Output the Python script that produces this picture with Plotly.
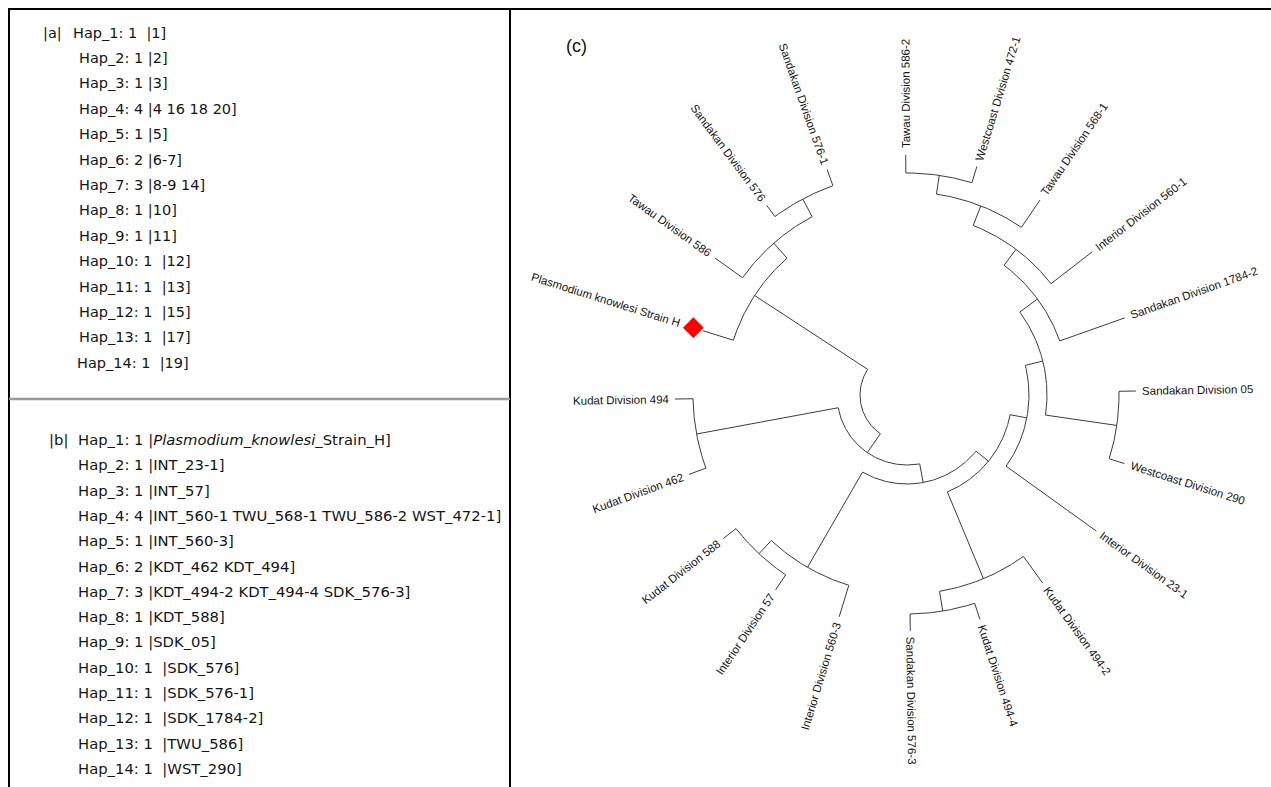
import math
import plotly.graph_objects as go

# ---------------- Panel (a) / (b) data ----------------
hap_ids = ["Hap_1", "Hap_2", "Hap_3", "Hap_4", "Hap_5", "Hap_6", "Hap_7",
           "Hap_8", "Hap_9", "Hap_10", "Hap_11", "Hap_12", "Hap_13", "Hap_14"]
hap_counts = [1, 1, 1, 4, 1, 2, 3, 1, 1, 1, 1, 1, 1, 1]
hap_seq_numbers = ["1", "2", "3", "4 16 18 20", "5", "6-7", "8-9 14", "10", "11",
                   "12", "13", "15", "17", "19"]
hap_seq_names = ["<i>Plasmodium_knowlesi</i>_Strain_H", "INT_23-1", "INT_57",
                 "INT_560-1 TWU_568-1 TWU_586-2 WST_472-1", "INT_560-3",
                 "KDT_462 KDT_494", "KDT_494-2 KDT_494-4 SDK_576-3", "KDT_588",
                 "SDK_05", "SDK_576", "SDK_576-1", "SDK_1784-2", "TWU_586", "WST_290"]

# ---------------- Panel (c) tree data ----------------
leaf_names = ["Sandakan Division 576-1", "Sandakan Division 576", "Tawau Division 586",
              "Plasmodium knowlesi Strain H", "Kudat Division 494", "Kudat Division 462",
              "Kudat Division 588", "Interior Division 57", "Interior Division 560-3",
              "Sandakan Division 576-3", "Kudat Division 494-4", "Kudat Division 494-2",
              "Interior Division 23-1", "Westcoast Division 290", "Sandakan Division 05",
              "Sandakan Division 1784-2", "Interior Division 560-1", "Tawau Division 568-1",
              "Westcoast Division 472-1", "Tawau Division 586-2"]
leaf_angle_deg = [109.5, 126.5, 144.5, 162.5, 181.0, 200.0, 218.0, 236.0, 253.0, 270.8,
                  288.0, 305.8, 324.3, 342.5, 361.0, 379.5, 397.7, 415.7, 433.0, 450.3]
leaf_tip_r = [239, 236, 236, 214, 232, 232, 233, 235, 232, 236,
              236, 232, 233, 228, 229, 231, 234, 236, 239, 240]
marked_leaf = "Plasmodium knowlesi Strain H"

node_names = ["S", "X", "Y", "K", "P", "Q", "M", "L", "SW", "B4", "B3", "B2", "B1",
              "A", "R5", "R4", "R3", "R2", "root"]
node_r = [222, 202, 182, 214, 217, 199, 219, 199, 212, 222, 203, 182, 162,
          140, 122, 105, 89, 70, 47]
node_children = [
    ["Sandakan Division 576-1", "Sandakan Division 576"],
    ["S", "Tawau Division 586"],
    ["X", "Plasmodium knowlesi Strain H"],
    ["Kudat Division 494", "Kudat Division 462"],
    ["Kudat Division 588", "Interior Division 57"],
    ["P", "Interior Division 560-3"],
    ["Sandakan Division 576-3", "Kudat Division 494-4"],
    ["M", "Kudat Division 494-2"],
    ["Westcoast Division 290", "Sandakan Division 05"],
    ["Westcoast Division 472-1", "Tawau Division 586-2"],
    ["Tawau Division 568-1", "B4"],
    ["Interior Division 560-1", "B3"],
    ["Sandakan Division 1784-2", "B2"],
    ["SW", "B1"],
    ["Interior Division 23-1", "A"],
    ["L", "R5"],
    ["Q", "R4"],
    ["K", "R3"],
    ["Y", "R2"],
]

# ---------------- layout constants ----------------
W, H = 1271, 787
CX, CY = 907, 395          # tree centre (pixel coords)
TREE_FS = 11.5
PANEL_A_FS = 14.5
PANEL_B_FS = 14.8
LINE_COL = "#3c3c3c"
TEXT_COL = "#141414"

ARIAL_W = {' ': 278, '-': 333, 'D': 722, 'H': 722, 'I': 278, 'K': 667, 'P': 667,
           'S': 667, 'T': 611, 'W': 944, 'a': 556, 'c': 500, 'd': 556, 'e': 556,
           'i': 222, 'k': 500, 'l': 222, 'm': 833, 'n': 556, 'o': 556, 'r': 333,
           's': 500, 't': 278, 'u': 556, 'v': 500, 'w': 722}


def text_w(s, size):
    return sum(ARIAL_W.get(c, 556) for c in s) * size / 1000.0


def pt(r, ang):
    t = math.radians(ang)
    return CX + r * math.cos(t), CY - r * math.sin(t)


# node geometry
angle = dict(zip(leaf_names, leaf_angle_deg))
radius = dict(zip(leaf_names, leaf_tip_r))
parent_r = {}
arcs = []
for name, r, ch in zip(node_names, node_r, node_children):
    angs = [angle[c] for c in ch]
    angle[name] = (min(angs) + max(angs)) / 2.0
    radius[name] = r
    for c in ch:
        parent_r[c] = r
    arcs.append((r, min(angs), max(angs)))

xs, ys = [], []
# radial branches
for name, pr in parent_r.items():
    x0, y0 = pt(pr, angle[name])
    x1, y1 = pt(radius[name], angle[name])
    xs += [x0, x1, None]
    ys += [y0, y1, None]
# arcs
for r, a0, a1 in arcs:
    n = max(2, int((a1 - a0) / 0.5) + 1)
    for i in range(n):
        a = a0 + (a1 - a0) * i / (n - 1)
        x, y = pt(r, a)
        xs.append(x)
        ys.append(y)
    xs.append(None)
    ys.append(None)

fig = go.Figure()
fig.add_trace(go.Scatter(x=xs, y=ys, mode="lines",
                         line=dict(color=LINE_COL, width=1),
                         hoverinfo="skip", showlegend=False))

# marker on the reference strain
mi = leaf_names.index(marked_leaf)
mx, my = pt(leaf_tip_r[mi] + 10, leaf_angle_deg[mi])
fig.add_trace(go.Scatter(x=[mx], y=[my], mode="markers",
                         marker=dict(symbol="diamond", size=16, color="#ff0000",
                                     line=dict(width=0)),
                         hoverinfo="skip", showlegend=False))

annotations = []
# leaf labels
for name, ang, tip in zip(leaf_names, leaf_angle_deg, leaf_tip_r):
    start = tip + (24 if name == marked_leaf else 6)
    w = text_w(name, TREE_FS)
    x, y = pt(start + w / 2.0, ang)
    if math.cos(math.radians(ang)) >= -0.02:
        ta = -ang
    else:
        ta = 180 - ang
    ta = ((ta + 180) % 360) - 180
    annotations.append(dict(x=x, y=y, xref="x", yref="y", text=name, showarrow=False,
                            xanchor="center", yanchor="middle", textangle=ta,
                            borderpad=0, borderwidth=0,
                            font=dict(family="Liberation Sans, Arial", size=TREE_FS,
                                      color=TEXT_COL)))

annotations.append(dict(x=566, y=46, xref="x", yref="y", text="(c)", showarrow=False,
                        xanchor="left", yanchor="middle", borderpad=0, borderwidth=0,
                        font=dict(family="Liberation Sans, Arial", size=18, color="#111")))

NB = "\u00a0"
# panel (a)
for i, (hid, cnt, nums) in enumerate(zip(hap_ids, hap_counts, hap_seq_numbers)):
    gap = " " if 0 < i < 9 else " " + NB
    txt = f"{hid}: {cnt}{gap}|{nums}]"
    x0 = 73 if i == 0 else (77 if i == 13 else 79)
    annotations.append(dict(x=x0, y=33 + 25.4 * i, xref="x", yref="y", text=txt,
                            showarrow=False, xanchor="left", yanchor="middle",
                            borderpad=0, borderwidth=0,
                            font=dict(family="DejaVu Sans", size=PANEL_A_FS, color=TEXT_COL)))
annotations.append(dict(x=43, y=33, xref="x", yref="y", text="|a|", showarrow=False,
                        xanchor="left", yanchor="middle", borderpad=0, borderwidth=0,
                        font=dict(family="DejaVu Sans", size=PANEL_A_FS, color=TEXT_COL)))
# panel (b)
for i, (hid, cnt, names) in enumerate(zip(hap_ids, hap_counts, hap_seq_names)):
    gap = " " if i < 9 else " " + NB
    txt = f"{hid}: {cnt}{gap}|{names}]"
    annotations.append(dict(x=78, y=440 + 25.3 * i, xref="x", yref="y", text=txt,
                            showarrow=False, xanchor="left", yanchor="middle",
                            borderpad=0, borderwidth=0,
                            font=dict(family="DejaVu Sans", size=PANEL_B_FS, color=TEXT_COL)))
annotations.append(dict(x=49, y=440, xref="x", yref="y", text="|b|", showarrow=False,
                        xanchor="left", yanchor="middle", borderpad=0, borderwidth=0,
                        font=dict(family="DejaVu Sans", size=PANEL_B_FS, color=TEXT_COL)))

shapes = [
    dict(type="line", xref="x", yref="y", x0=8, x1=W, y0=9, y1=9,
         line=dict(color="#000", width=2)),
    dict(type="line", xref="x", yref="y", x0=9, x1=9, y0=8, y1=H,
         line=dict(color="#000", width=2)),
    dict(type="line", xref="x", yref="y", x0=510, x1=510, y0=8, y1=H,
         line=dict(color="#000", width=2)),
    dict(type="line", xref="x", yref="y", x0=9, x1=510, y0=399, y1=399,
         line=dict(color="#999", width=2.5)),
]

fig.update_layout(
    width=W, height=H, autosize=False,
    margin=dict(l=0, r=0, t=0, b=0),
    paper_bgcolor="white", plot_bgcolor="white",
    xaxis=dict(range=[0, W], visible=False, fixedrange=True),
    yaxis=dict(range=[H, 0], visible=False, fixedrange=True),
    annotations=annotations, shapes=shapes, showlegend=False,
)

fig.write_html("out.html", config={"displayModeBar": False},
               post_script="document.body.style.margin='0';document.body.style.overflow='hidden';")
